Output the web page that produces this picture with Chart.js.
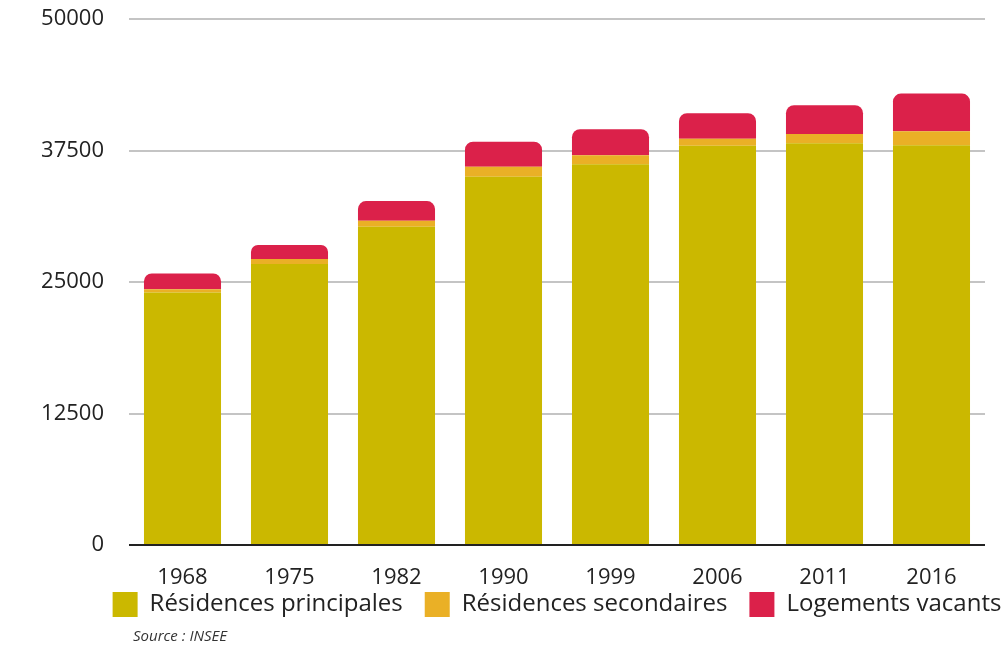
<!DOCTYPE html>
<html lang="fr">
<head>
<meta charset="utf-8">
<title>Logements - INSEE</title>
<script src="https://cdn.jsdelivr.net/npm/chart.js@4.4.1/dist/chart.umd.min.js"></script>
<style>
    html, body { margin: 0; padding: 0; background: #ffffff; }
    #wrap { width: 1005px; height: 646px; }
</style>
</head>
<body>
<div id="wrap"><canvas id="logements"></canvas></div>
<script>
// Parc de logements par type, recensements INSEE
const years = ['1968', '1975', '1982', '1990', '1999', '2006', '2011', '2016'];
const principales = [24000, 26700, 30250, 35000, 36200, 37950, 38200, 38000];
const secondaires = [320, 480, 570, 950, 860, 660, 880, 1330];
const vacants = [1480, 1330, 1870, 2380, 2470, 2440, 2730, 3580];
const yTicks = [0, 12500, 25000, 37500, 50000];

const FONT = '"Open Sans", Lato, sans-serif';

// legend: pulled up under the year labels and centred on the plot area;
// then the source line below it
const layoutTweaks = {
    id: 'layoutTweaks',
    afterLayout(chart) {
        const lg = chart.legend;
        const area = chart.chartArea;
        const dx = (area.left + area.right) / 2 - (lg.left + lg.right) / 2;
        lg.left += dx;
        lg.right += dx;
        lg.top -= 19;
        lg.bottom -= 19;
    },
    afterDraw(chart) {
        const ctx = chart.ctx;
        ctx.save();
        ctx.font = 'italic 15px ' + FONT;
        ctx.fillStyle = '#333333';
        ctx.textBaseline = 'middle';
        ctx.textAlign = 'left';
        ctx.fillText('Source : INSEE', chart.chartArea.left + 4, chart.height - 9);
        ctx.restore();
    }
};

const ctx = document.getElementById('logements').getContext('2d');
new Chart(ctx, {
    type: 'bar',
    data: {
        labels: years,
        datasets: [
            { label: 'Résidences principales', data: principales, backgroundColor: '#cbb800' },
            { label: 'Résidences secondaires', data: secondaires, backgroundColor: '#eab026' },
            {
                label: 'Logements vacants', data: vacants, backgroundColor: '#db214a',
                borderRadius: { topLeft: 8, topRight: 8 }, borderSkipped: 'bottom'
            }
        ]
    },
    options: {
        responsive: true,
        maintainAspectRatio: false,
        animation: false,
        categoryPercentage: 0.9,
        barPercentage: 0.8,
        layout: { padding: { top: 19, right: 20, bottom: 0, left: 0 } },
        scales: {
            x: {
                stacked: true,
                grid: { display: false, drawTicks: false },
                border: { display: false },
                ticks: { color: '#222222', padding: 20, font: { family: FONT, size: 22 } },
                afterFit(scale) { scale.height = 44; }
            },
            y: {
                stacked: true,
                min: 0,
                max: 50000,
                afterBuildTicks(scale) { scale.ticks = yTicks.map(v => ({ value: v })); },
                grid: {
                    drawTicks: false,
                    lineWidth: 2,
                    color: c => c.tick && c.tick.value === 0 ? '#222222' : '#c4c4c4'
                },
                border: { display: false },
                ticks: {
                    color: '#222222',
                    padding: 25,
                    font: { family: FONT, size: 22 },
                    callback: v => String(v)
                },
                afterFit(scale) {
                    scale.width = 129;
                    scale.paddingTop = 0;
                    scale.paddingBottom = 0;
                }
            }
        },
        plugins: {
            legend: {
                position: 'bottom',
                labels: {
                    color: '#222222',
                    boxWidth: 25,
                    boxHeight: 25,
                    padding: 22,
                    font: { family: FONT, size: 24 }
                }
            },
            tooltip: { enabled: false }
        }
    },
    plugins: [layoutTweaks]
});
</script>
</body>
</html>
